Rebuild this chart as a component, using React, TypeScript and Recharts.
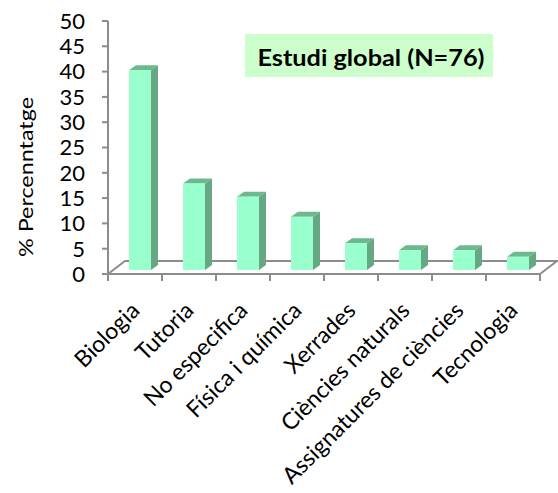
import React from "react";
import { BarChart, Bar, XAxis, YAxis, Customized } from "recharts";

// data (N = 76 answers)
const categories = [
  "Biologia",
  "Tutoria",
  "No especifica",
  "Física i química",
  "Xerrades",
  "Ciències naturals",
  "Assignatures de ciències",
  "Tecnologia",
];
const percentages = [39.5, 17.1, 14.5, 10.5, 5.3, 3.9, 3.9, 2.6];
const yTicks = [0, 5, 10, 15, 20, 25, 30, 35, 40, 45, 50];
const chartTitle = "Estudi global (N=76)";
const yAxisTitle = "% Percenntatge";

const data = categories.map((name, i) => ({ name, value: percentages[i] }));

const W = 558;
const H = 493;
const PLOT_LEFT = 108;
const PLOT_RIGHT = 540;
const PLOT_TOP = 21;
const PLOT_BOTTOM = 274;
const BAND = (PLOT_RIGHT - PLOT_LEFT) / categories.length;
const DEPTH_X = 17;
const DEPTH_Y = 13;
const GREY = "#8c8c8c";
const FONT = "Lato, 'Noto Sans', sans-serif";

// 3D column: front face + top + right side, like the Excel original
function Bar3D(props: any) {
  const { x, y, width, height } = props;
  if (width == null || height == null) return null;
  const fx = x + 5;
  const fy = y - 4;
  const dx = 7;
  const dy = 5;
  return (
    <g>
      <polygon
        points={`${fx},${fy} ${fx + dx},${fy - dy} ${fx + width + dx},${fy - dy} ${fx + width},${fy}`}
        fill="#6cb98e"
      />
      <polygon
        points={`${fx + width},${fy} ${fx + width + dx},${fy - dy} ${fx + width + dx},${fy + height - dy} ${fx + width},${fy + height}`}
        fill="#66a884"
      />
      <rect x={fx} y={fy} width={width} height={height} fill="#99ffcc" />
    </g>
  );
}

function Floor() {
  return (
    <g>
      <polyline
        points={`${PLOT_LEFT},${PLOT_BOTTOM} ${PLOT_LEFT + DEPTH_X},${PLOT_BOTTOM - DEPTH_Y} ${PLOT_RIGHT + DEPTH_X},${PLOT_BOTTOM - DEPTH_Y} ${PLOT_RIGHT},${PLOT_BOTTOM}`}
        fill="none"
        stroke={GREY}
        strokeWidth={2}
      />
      <rect x={245} y={34} width={248} height={43} fill="#ccffcc" />
      <text
        x={371}
        y={66}
        textAnchor="middle"
        fontFamily={FONT}
        fontWeight="bold"
        fontSize={22}
        fill="#000"
        textLength={227}
        lengthAdjust="spacingAndGlyphs"
      >
        {chartTitle}
      </text>
      <text
        transform={`translate(33, 177) rotate(-90)`}
        textAnchor="middle"
        fontFamily={FONT}
        fontSize={20}
        fill="#000"
        textLength={160}
        lengthAdjust="spacingAndGlyphs"
      >
        {yAxisTitle}
      </text>
    </g>
  );
}

function CategoryTick(props: any) {
  const { x, payload, index } = props;
  const left = x - BAND / 2;
  return (
    <g>
      <line x1={left} y1={PLOT_BOTTOM} x2={left} y2={PLOT_BOTTOM + 7} stroke={GREY} strokeWidth={2} />
      {index === categories.length - 1 && (
        <line x1={x + BAND / 2} y1={PLOT_BOTTOM} x2={x + BAND / 2} y2={PLOT_BOTTOM + 7} stroke={GREY} strokeWidth={2} />
      )}
      <text
        transform={`translate(${x + 6}, ${PLOT_BOTTOM + 38}) rotate(-45)`}
        textAnchor="end"
        fontFamily={FONT}
        fontSize={23}
        fill="#000"
      >
        {payload.value}
      </text>
    </g>
  );
}

export default function App() {
  return (
    <div style={{ position: "absolute", left: 0, top: 0, width: W, height: H, background: "#fff" }}>
      <BarChart
        width={W}
        height={H}
        data={data}
        margin={{ top: PLOT_TOP, right: W - PLOT_RIGHT, bottom: H - PLOT_BOTTOM - 150, left: 8 }}
      >
        <Customized component={Floor} />
        <XAxis
          dataKey="name"
          height={150}
          interval={0}
          tickLine={false}
          axisLine={{ stroke: GREY, strokeWidth: 2 }}
          tick={<CategoryTick />}
        />
        <YAxis
          width={100}
          domain={[0, 50]}
          ticks={yTicks}
          interval={0}
          tickSize={6}
          tickMargin={17}
          tickLine={{ stroke: GREY, strokeWidth: 2 }}
          axisLine={{ stroke: GREY, strokeWidth: 2 }}
          tick={{ fontFamily: FONT, fontSize: 22, fill: "#000" }}
        />
        <Bar dataKey="value" barSize={22} shape={<Bar3D />} isAnimationActive={false} />
      </BarChart>
    </div>
  );
}
